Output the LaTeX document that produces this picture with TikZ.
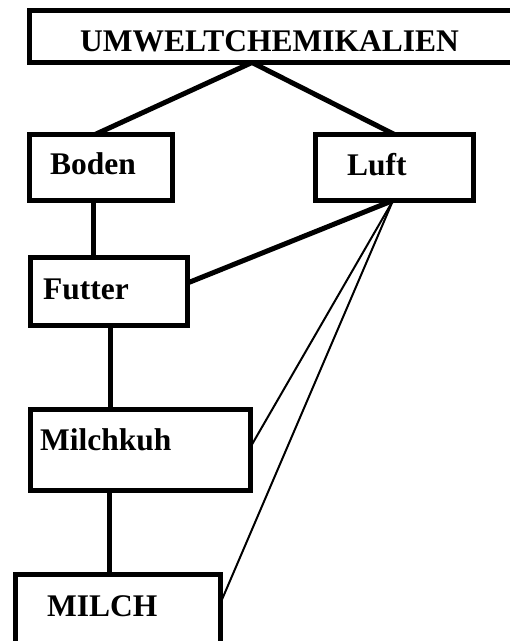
\documentclass[tikz,border=0pt]{standalone}
\usepackage{fontspec}
\setmainfont{Liberation Serif}
\begin{document}
\begin{tikzpicture}[x=1pt,y=-1pt,
  box/.style={draw, line width=5pt, rectangle, inner sep=0pt, outer sep=0pt},
  lbl/.style={anchor=base west, inner sep=0pt, font=\fontsize{31.5}{36}\selectfont\bfseries},
  thick link/.style={line width=5pt},
  thin link/.style={line width=2pt}]
\useasboundingbox (0,0) rectangle (510,641);
\clip (0,0) rectangle (510,641);

% boxes
\node[box, minimum width=490.2pt, minimum height=52pt] (umw) at (274.9,36.5) {};
\node[box, minimum width=143pt, minimum height=66pt] (boden) at (101,167.5) {};
\node[box, minimum width=158pt, minimum height=66pt] (luft) at (394.5,167.5) {};
\node[box, minimum width=157pt, minimum height=68pt] (futter) at (109,291.5) {};
\node[box, minimum width=220pt, minimum height=81pt] (kuh) at (140.5,450) {};
\node[box, minimum width=205pt, minimum height=75.5pt] (milch) at (118,612.25) {};

% labels
\node[lbl] (umw-t) at (80,51) {UMWELTCHEMIKALIEN};
\node[lbl] (boden-t) at (50,174.3) {Boden};
\node[lbl] (luft-t) at (347,175) {Luft};
\node[lbl] (futter-t) at (43,299) {Futter};
\node[lbl] (kuh-t) at (40,450) {Milchkuh};
\node[lbl] (milch-t) at (47,616) {MILCH};

% connectors
\draw[thick link] ([xshift=-22.9pt]umw.south) -- ([xshift=-6pt]boden.north);
\draw[thick link] ([xshift=-22.9pt]umw.south) -- (luft.north);
\draw[thick link] ([xshift=-8pt]boden.south) -- ([xshift=-16pt]futter.north);
\draw[thick link] ([xshift=-1.5pt]luft.south) -- ([yshift=8.5pt]futter.east);
\draw[thick link] ([xshift=1pt]futter.south) -- ([xshift=-30.5pt]kuh.north);
\draw[thick link] ([xshift=-31.5pt]kuh.south) -- ([xshift=-9pt]milch.north);
\draw[thin link] ([xshift=-1.5pt]luft.south) -- ([yshift=3pt]kuh.east);
\draw[thin link] ([xshift=-1.5pt]luft.south) -- ([yshift=9.25pt]milch.east);
\end{tikzpicture}
\end{document}
